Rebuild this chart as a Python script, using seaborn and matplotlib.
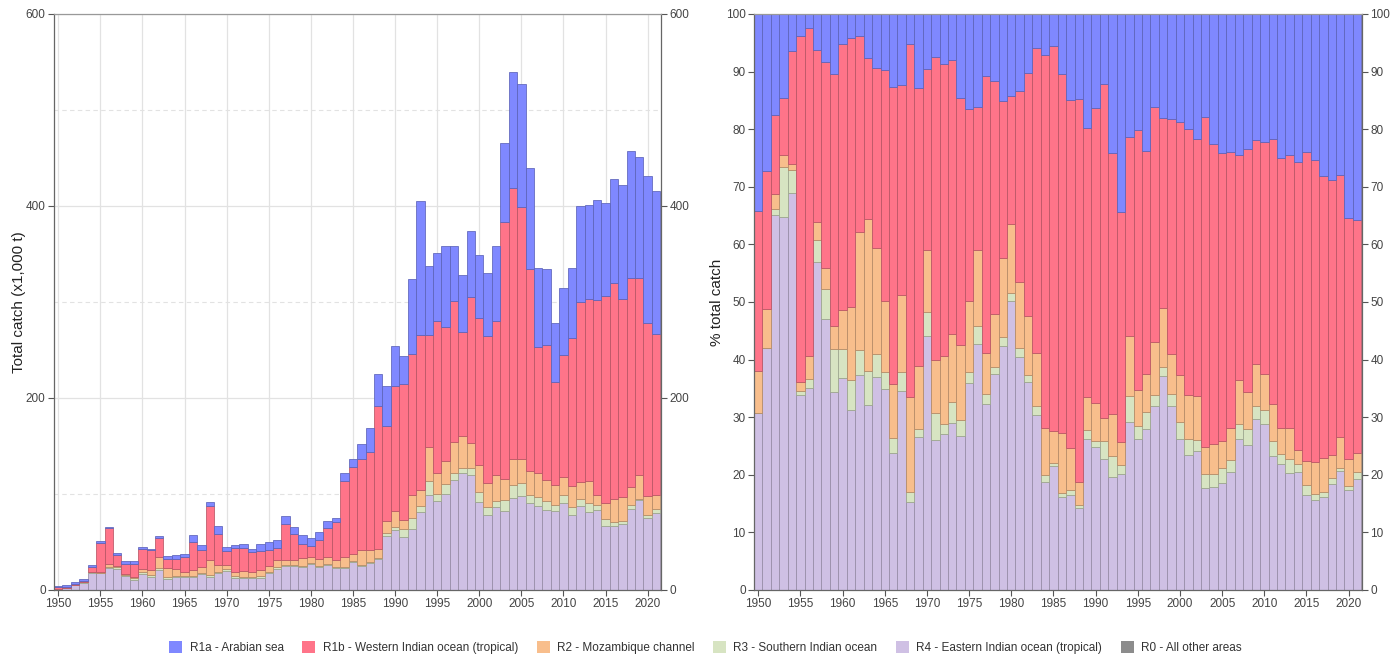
import numpy as np
import pandas as pd
import matplotlib
matplotlib.use("Agg")
import matplotlib.pyplot as plt
import matplotlib.colors as mcolors
from matplotlib.patches import Patch
from matplotlib.ticker import MultipleLocator, FuncFormatter
import seaborn as sns

# Years and total catch (x1,000 t)
years = list(range(1950, 2022))
total = [4, 5, 8, 11, 26, 51, 66, 39, 30, 30,
         45, 43, 56, 35, 36, 38, 57, 47, 92, 67,
         45, 47, 47.5, 43, 48, 49.5, 52, 77, 66, 57,
         54, 60, 72, 75, 122, 136, 152, 169, 224.5, 213,
         254, 244, 324, 405, 338, 351, 358.5, 358.5, 328, 374,
         349, 330.5, 358, 466, 540, 527, 440, 335, 334, 278,
         315, 335, 400, 401, 406, 403, 428, 422, 457, 451,
         431, 416]

# Share of total catch by region (%)
r4 = [30.7, 42.0, 65.1, 64.8, 69.0, 33.9, 35.0, 57.0, 47.0, 34.4,
      36.8, 31.2, 37.3, 32.2, 37.0, 34.9, 23.7, 34.5, 15.2, 26.5,
      44.1, 26.0, 27.1, 29.0, 26.7, 36.0, 42.7, 32.3, 37.5, 42.3,
      50.2, 40.4, 36.1, 30.3, 18.8, 21.5, 16.2, 16.5, 14.2, 26.3,
      24.8, 22.7, 19.6, 20.1, 29.2, 26.3, 27.9, 31.9, 37.2, 32.0,
      26.3, 23.5, 24.2, 17.7, 17.8, 18.5, 20.5, 26.2, 25.1, 29.7,
      28.9, 23.2, 21.8, 20.3, 20.5, 16.5, 15.6, 16.2, 18.4, 20.7,
      17.3, 19.2]
r3 = [0.0, 0.0, 1.0, 8.6, 3.9, 0.6, 1.7, 3.7, 5.2, 7.5,
      5.1, 5.2, 4.4, 5.9, 3.9, 2.9, 2.7, 3.4, 1.9, 1.4,
      4.2, 4.8, 1.8, 3.7, 2.9, 1.8, 3.2, 1.8, 1.2, 1.7,
      1.4, 1.7, 1.3, 1.6, 1.2, 0.6, 0.7, 0.8, 0.5, 1.4,
      1.1, 3.2, 3.7, 1.6, 4.4, 2.2, 3.0, 2.0, 1.6, 2.1,
      2.9, 2.7, 1.8, 2.4, 2.4, 2.6, 2.1, 2.6, 2.8, 2.3,
      2.4, 2.7, 1.8, 2.4, 1.3, 1.8, 1.0, 0.9, 1.0, 0.4,
      0.8, 1.2]
r2 = [7.4, 6.7, 2.7, 2.2, 1.0, 1.6, 3.9, 3.2, 3.7, 4.0,
      6.7, 12.7, 20.5, 26.3, 18.5, 12.4, 9.4, 13.4, 16.4, 11.0,
      10.7, 9.1, 11.7, 11.8, 13.0, 12.3, 13.2, 7.1, 9.3, 13.7,
      12.0, 11.4, 10.1, 9.3, 8.1, 5.5, 10.4, 7.4, 4.1, 5.8,
      6.6, 4.0, 7.3, 4.0, 10.5, 6.3, 6.6, 9.1, 10.2, 6.8,
      8.2, 7.6, 7.6, 4.8, 5.1, 4.8, 5.5, 7.6, 6.4, 7.3,
      6.2, 6.4, 4.5, 5.5, 2.5, 4.1, 5.6, 5.9, 4.0, 5.5,
      4.7, 3.4]
r1b = [27.7, 24.1, 13.6, 9.9, 19.6, 60.1, 56.9, 29.8, 35.8, 43.6,
       46.2, 46.8, 34.0, 28.0, 31.2, 40.1, 51.6, 36.3, 61.3, 48.3,
       31.5, 52.7, 50.8, 47.5, 42.8, 33.4, 24.7, 48.1, 40.4, 27.2,
       22.1, 33.2, 42.2, 52.9, 64.8, 66.9, 62.3, 60.3, 66.5, 46.7,
       51.2, 58.0, 45.2, 39.9, 34.6, 45.0, 38.8, 40.9, 32.9, 40.8,
       43.8, 46.2, 44.7, 57.3, 52.2, 49.9, 48.0, 39.1, 42.2, 38.8,
       40.2, 46.0, 46.9, 47.3, 50.0, 53.6, 52.4, 48.8, 47.8, 45.4,
       41.7, 40.4]
r1a = [34.2, 27.2, 17.6, 14.5, 6.5, 3.8, 2.5, 6.3, 8.3, 10.5,
       5.2, 4.1, 3.8, 7.6, 9.4, 9.7, 12.6, 12.4, 5.2, 12.8,
       9.5, 7.4, 8.6, 8.0, 14.6, 16.5, 16.2, 10.7, 11.6, 15.1,
       14.3, 13.3, 10.3, 5.9, 7.1, 5.5, 10.4, 15.0, 14.7, 19.8,
       16.3, 12.1, 24.2, 34.4, 21.3, 20.2, 23.7, 16.1, 18.1, 18.3,
       18.8, 20.0, 21.7, 17.8, 22.5, 24.2, 23.9, 24.5, 23.5, 21.9,
       22.3, 21.7, 25.0, 24.5, 25.7, 24.0, 25.4, 28.2, 28.8, 28.0,
       35.5, 35.8]

regions = ["R1a - Arabian sea", "R1b - Western Indian ocean (tropical)",
           "R2 - Mozambique channel", "R3 - Southern Indian ocean",
           "R4 - Eastern Indian ocean (tropical)", "R0 - All other areas"]
colors = ["#7f88ff", "#ff7489", "#f8be8c", "#d7e4c2", "#cfc0e4", "#8c8c8c"]

sns.set_theme(style="white")
plt.rcParams["font.family"] = ["Liberation Sans", "DejaVu Sans"]

# absolute catch per region for the left panel
tot = np.array(total)
shares = {regions[0]: r1a, regions[1]: r1b, regions[2]: r2,
          regions[3]: r3, regions[4]: r4}
df = pd.DataFrame({"year": years})
for name, vals in shares.items():
    df[name] = np.array(vals) / 100 * tot
long = df.melt(id_vars="year", var_name="region", value_name="catch")

pal = dict(zip(regions, colors))
hue_order = regions[:5]


def darker(c, f=0.72):
    r, g, b, a = mcolors.to_rgba(c)
    return (r * f, g * f, b * f, 0.9)


fig = plt.figure(figsize=(14, 6.59), dpi=100)
ax1 = fig.add_axes([54 / 1400, 69 / 659, 607 / 1400, 576 / 659])
ax2 = fig.add_axes([754 / 1400, 69 / 659, 608 / 1400, 576 / 659])

for ax, mult in [(ax1, "stack"), (ax2, "fill")]:
    sns.histplot(data=long, x="year", weights="catch", hue="region",
                 hue_order=hue_order, palette=pal, multiple=mult,
                 discrete=True, alpha=1, linewidth=0.6, legend=False, ax=ax)
    for p in ax.patches:
        p.set_edgecolor(darker(p.get_facecolor()))
    ax.set_xlim(1949.5, 2021.58)
    ax.xaxis.set_major_locator(MultipleLocator(5))
    ax.set_xlabel("")
    ax.tick_params(axis="both", which="major", direction="out", length=4,
                   width=0.8, color="#555555", labelcolor="#444444",
                   labelsize=8.5, pad=2, right=True, labelright=True,
                   left=True, bottom=True)
    for side in ["left", "bottom", "right"]:
        ax.spines[side].set_color("#666666")
        ax.spines[side].set_linewidth(0.9)
    ax.spines["top"].set_color("#999999")
    ax.spines["top"].set_linewidth(0.9)

# left panel: absolute catch
ax1.set_ylim(0, 600)
ax1.yaxis.set_major_locator(MultipleLocator(200))
ax1.yaxis.set_minor_locator(MultipleLocator(100))
ax1.tick_params(axis="y", which="minor", length=0)
ax1.set_axisbelow(True)
ax1.grid(True, which="major", color="#e2e2e2", linewidth=0.9)
ax1.grid(True, which="minor", axis="y", color="#e2e2e2", linewidth=0.8,
         linestyle=(0, (4, 3)))
ax1.set_ylabel("Total catch (x1,000 t)", fontsize=11, color="#222222",
               labelpad=0)

# right panel: percentage of total
ax2.set_ylim(0, 1)
ax2.yaxis.set_major_locator(MultipleLocator(0.1))
ax2.yaxis.set_major_formatter(FuncFormatter(lambda v, p: f"{v * 100:.0f}"))
ax2.grid(False)
ax2.set_ylabel("% total catch", fontsize=11, color="#222222", labelpad=1)

handles = [Patch(facecolor=c, edgecolor="none") for c in colors]
fig.legend(handles, regions, loc="center", bbox_to_anchor=(0.504, 0.017),
           ncol=6, frameon=False, fontsize=8.5, handlelength=1.1,
           handleheight=1.1, columnspacing=1.6, handletextpad=0.6,
           labelcolor="#333333")

fig.savefig("out.png", dpi=100)
